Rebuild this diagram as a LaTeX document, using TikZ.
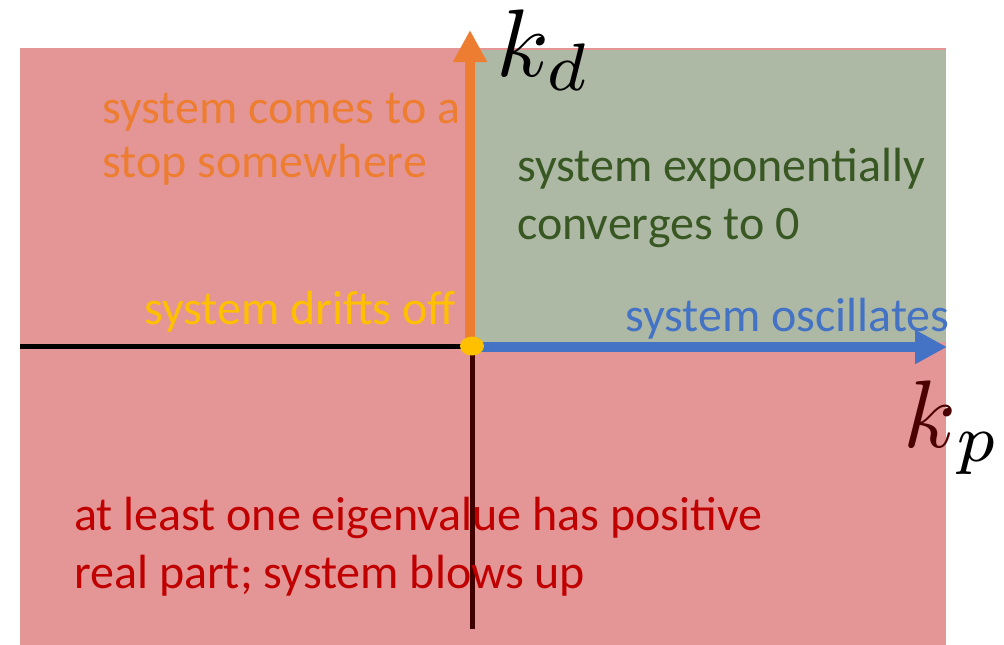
\documentclass[tikz,border=0pt]{standalone}
\usepackage{graphicx}
\usepackage{fontspec}
\setmainfont{Carlito}
\usetikzlibrary{arrows.meta}
\definecolor{bgred}{HTML}{E49696}
\definecolor{bggreen}{HTML}{ADB9A5}
\definecolor{axorange}{HTML}{ED7D31}
\definecolor{axblue}{HTML}{4472C4}
\definecolor{dotyellow}{HTML}{FFC000}
\definecolor{txtgreen}{HTML}{385723}
\definecolor{txtred}{HTML}{C00000}
\definecolor{darkmaroon}{HTML}{400000}
\definecolor{kmaroon}{HTML}{4A0000}
\tikzset{
  lbl/.style={anchor=base west, inner sep=0pt, align=left, font=\fontsize{48}{54}\selectfont},
  mathlbl/.style={anchor=base west, inner sep=0pt},
  axisarrow/.style={line width=10pt, -{Triangle[length=32pt,width=32pt]}},
}
\begin{document}
\begin{tikzpicture}[x=1pt,y=-1pt]
\useasboundingbox (0,0) rectangle (1004,645);
% regions
\fill[bgred] (20,48) rectangle (946,645);
\fill[bggreen] (475,50) rectangle (946,342);
% axis coordinates
\coordinate (origin) at (472,346);
\coordinate (leftend) at (20,346);
\coordinate (bottomend) at (472,629);
\coordinate (kdtip) at (470,30);
\coordinate (kdstart) at (470,350);
\coordinate (kpstart) at (470,347);
\coordinate (kptip) at (947,347);
% plain axes
\draw[line width=5pt, black] (leftend) -- (origin);
\draw[line width=5pt, darkmaroon] (origin) -- (bottomend);
% coloured axes
\draw[axisarrow, axorange] (kdstart) -- (kdtip);
\draw[axisarrow, axblue] (kpstart) -- (kptip);
\fill[dotyellow] (origin) ellipse [x radius=12, y radius=9.5];
% texts (base anchor = baseline of last line)
\node[lbl, text=axorange, font=\fontsize{48}{54}\selectfont] (stop) at (102,177) {system comes to a\\stop somewhere};
\node[lbl, text=txtgreen, font=\fontsize{48}{58}\selectfont] (conv) at (517,239) {system exponentially\\converges to 0};
\node[lbl, text=dotyellow] (drift) at (144,324) {system drifts off};
\node[lbl, text=axblue] (osc) at (625,331) {system oscillates};
\node[lbl, text=txtred, font=\fontsize{48}{58}\selectfont] (blow) at (74,588) {at least one eigenvalue has positive\\real part; system blows up};
% axis labels
\node[mathlbl] (kd) at (496,76) {\scalebox{9.6}{$k_d$}};
\node[mathlbl] (kp) at (903,447) {\scalebox{9.6}{$\textcolor{kmaroon}{k}_p$}};
\end{tikzpicture}
\end{document}
